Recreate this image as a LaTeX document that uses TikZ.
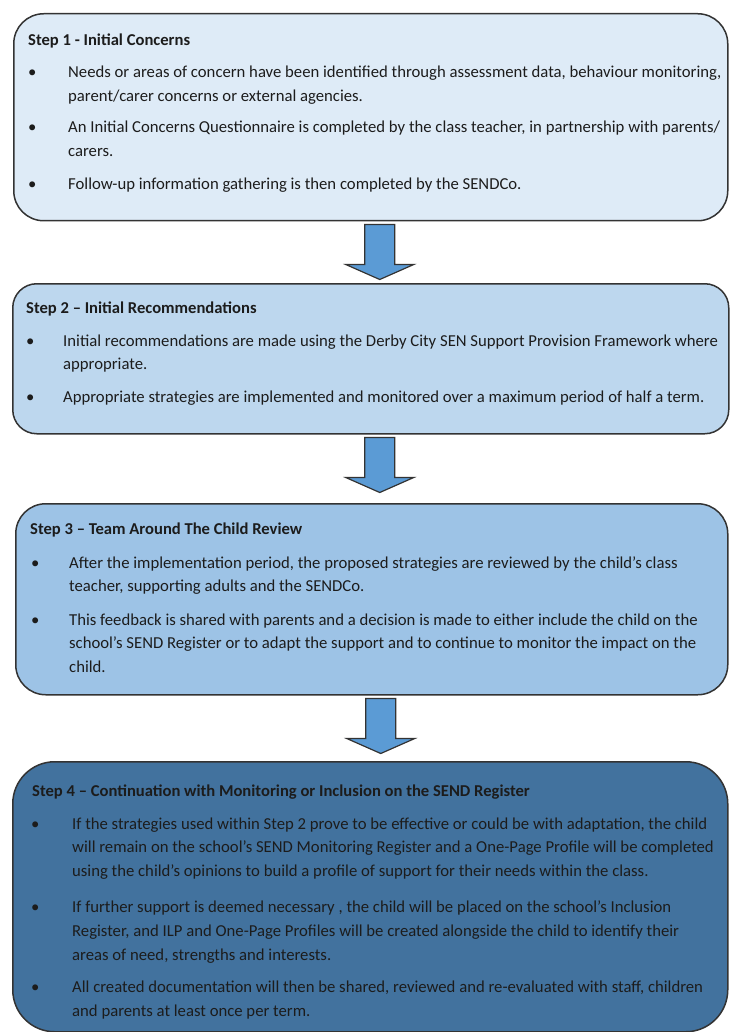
\documentclass[tikz,border=0pt]{standalone}
\usepackage{fontspec}
\setmainfont{Carlito}
\usetikzlibrary{positioning}
\definecolor{stepfillA}{HTML}{DEEBF7}
\definecolor{stepfillB}{HTML}{BDD7EE}
\definecolor{stepfillC}{HTML}{9DC3E6}
\definecolor{stepfillD}{HTML}{42729E}
\definecolor{arrowblue}{HTML}{5B9BD5}
\definecolor{steptext}{HTML}{1C1C1C}
\newcommand{\bul}[1][35pt]{\makebox[#1][l]{\makebox[0pt]{\textbullet}}}
\tikzset{
    stepbox/.style={draw=black!80, line width=1.5pt, anchor=north west, inner sep=0pt},
    steptitle/.style={anchor=base west, inner sep=0pt, text=steptext, font=\fontsize{16.6}{18}\selectfont\bfseries},
    steplist/.style={anchor=base west, inner sep=0pt, text=steptext, font=\fontsize{16.7}{23.5}\selectfont},
    downarrow/.style={draw=black!80, line width=1.2pt, fill=arrowblue, line join=miter},
}

\begin{document}
\begin{tikzpicture}[x=1pt, y=-1pt]
    \useasboundingbox (0,0) rectangle (729,1032);
    % the four steps
    \node[stepbox, fill=stepfillA, rounded corners=30pt, minimum width=714pt, minimum height=207pt] (s1) at (13,13) {};
    \node[stepbox, fill=stepfillB, rounded corners=24pt, minimum width=716pt, minimum height=150pt] (s2) at (12,283) {};
    \node[stepbox, fill=stepfillC, rounded corners=30pt, minimum width=712pt, minimum height=191pt] (s3) at (15,503) {};
    \node[stepbox, fill=stepfillD, rounded corners=42pt, minimum width=715pt, minimum height=270pt] (s4) at (12,761) {};

    % block arrows between the steps
    \foreach \a/\b in {s1/s2, s2/s3, s3/s4}
        \draw[downarrow] ([xshift=9pt, yshift=-3pt]\a.south) ++(-15,0) -- ++(0,40) -- ++(-19,0)
            -- ++(34,15) -- ++(34,-15) -- ++(-19,0) -- ++(0,-40) -- cycle;

    % step 1
    \node[steptitle] (t1) at (28,46) {Step 1 - Initial Concerns};
    \node[steplist] (l1) at (32,78) {\begin{tabular}[t]{@{}l@{}l@{}}
        \bul[36pt] & Needs or areas of concern have been identified through assessment data, behaviour monitoring,\\
                   & parent/carer concerns or external agencies.\\[8pt]
        \bul[36pt] & An Initial Concerns Questionnaire is completed by the class teacher, in partnership with parents/\\
                   & carers.\\[10pt]
        \bul[36pt] & Follow-up information gathering is then completed by the SENDCo.
    \end{tabular}};

    % step 2
    \node[steptitle] (t2) at (26,313) {Step 2 – Initial Recommendations};
    \node[steplist] (l2) at (30,346) {\begin{tabular}[t]{@{}l@{}l@{}}
        \bul[33pt] & Initial recommendations are made using the Derby City SEN Support Provision Framework where\\
                   & appropriate.\\[9pt]
        \bul[33pt] & Appropriate strategies are implemented and monitored over a maximum period of half a term.
    \end{tabular}};

    % step 3
    \node[steptitle] (t3) at (30,534) {Step 3 – Team Around The Child Review};
    \node[steplist] (l3) at (35,568) {\begin{tabular}[t]{@{}l@{}l@{}}
        \bul[34pt] & After the implementation period, the proposed strategies are reviewed by the child’s class\\
                   & teacher, supporting adults and the SENDCo.\\[10pt]
        \bul[34pt] & This feedback is shared with parents and a decision is made to either include the child on the\\
                   & school’s SEND Register or to adapt the support and to continue to monitor the impact on the\\
                   & child.
    \end{tabular}};

    % step 4
    \node[steptitle] (t4) at (32,796) {Step 4 – Continuation with Monitoring or Inclusion on the SEND Register};
    \node[steplist, font=\fontsize{16.7}{23.8}\selectfont] (l4) at (35,829) {\begin{tabular}[t]{@{}l@{}l@{}}
        \bul[37pt] & If the strategies used within Step 2 prove to be effective or could be with adaptation, the child\\
                   & will remain on the school’s SEND Monitoring Register and a One-Page Profile will be completed\\
                   & using the child’s opinions to build a profile of support for their needs within the class.\\[12pt]
        \bul[37pt] & If further support is deemed necessary , the child will be placed on the school’s Inclusion\\
                   & Register, and ILP and One-Page Profiles will be created alongside the child to identify their\\
                   & areas of need, strengths and interests.\\[9pt]
        \bul[37pt] & All created documentation will then be shared, reviewed and re-evaluated with staff, children\\
                   & and parents at least once per term.
    \end{tabular}};
\end{tikzpicture}
\end{document}
